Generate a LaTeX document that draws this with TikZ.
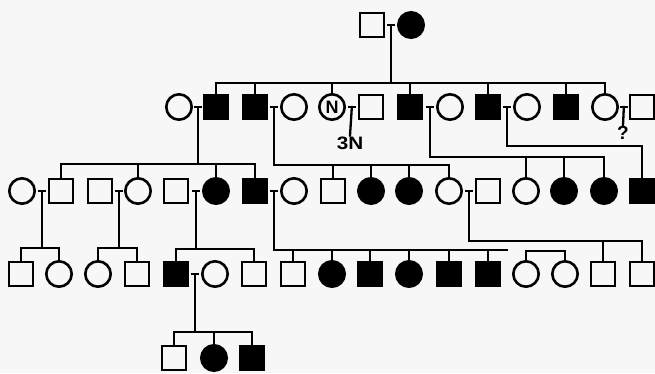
\documentclass[tikz,border=0pt]{standalone}
\usepackage{fontspec}
\newfontfamily\lab{Liberation Sans}
\usetikzlibrary{calc}
\begin{document}
\begin{tikzpicture}[x=1pt,y=-1pt,
  sq/.style={draw,line width=2.6pt,minimum size=24pt,inner sep=0pt,outer sep=0pt},
  ci/.style={draw,circle,line width=2.6pt,minimum size=25.4pt,inner sep=0pt,outer sep=0pt},
  fsq/.style={sq,fill=black},
  fci/.style={ci,fill=black},
  ln/.style={line width=2.3pt,line cap=rect},
  lbl/.style={font=\lab\bfseries\fontsize{18}{18}\selectfont,inner sep=1pt}]
\definecolor{bg}{RGB}{247,247,247}
\fill[bg] (0,0) rectangle (655,373);
\useasboundingbox (0,0) rectangle (655,373);
% generation I
\node[sq]  (r1a) at (372,25) {};
\node[fci] (r1b) at (411,25) {};
% generation II
\node[ci]  (a1)  at (179,107) {};
\node[fsq] (a2)  at (216,107) {};
\node[fsq] (a3)  at (255,107) {};
\node[ci]  (a4)  at (294,107) {};
\node[ci,font=\lab\bfseries\fontsize{18}{18}\selectfont] (a5) at (332,107) {N};
\node[sq]  (a6)  at (371,107) {};
\node[fsq] (a7)  at (410,107) {};
\node[ci]  (a8)  at (450,107) {};
\node[fsq] (a9)  at (488,107) {};
\node[ci]  (a10) at (527,107) {};
\node[fsq] (a11) at (566,107) {};
\node[ci]  (a12) at (605,107) {};
\node[sq]  (a13) at (642,107) {};
% generation III
\node[ci]  (b1)  at (22,191) {};
\node[sq]  (b2)  at (61,191) {};
\node[sq]  (b3)  at (100,191) {};
\node[ci]  (b4)  at (138,191) {};
\node[sq]  (b5)  at (176,191) {};
\node[fci] (b6)  at (216,191) {};
\node[fsq] (b7)  at (255,191) {};
\node[ci]  (b8)  at (294,191) {};
\node[sq]  (b9)  at (333,191) {};
\node[fci] (b10) at (371,191) {};
\node[fci] (b11) at (409,191) {};
\node[ci]  (b12) at (449,191) {};
\node[sq]  (b13) at (488,191) {};
\node[ci]  (b14) at (526,191) {};
\node[fci] (b15) at (564,191) {};
\node[fci] (b16) at (604,191) {};
\node[fsq] (b17) at (642,191) {};
% generation IV
\node[sq]  (c1)  at (21,274) {};
\node[ci]  (c2)  at (59,274) {};
\node[ci]  (c3)  at (98,274) {};
\node[sq]  (c4)  at (137,274) {};
\node[fsq] (c5)  at (176,274) {};
\node[ci]  (c6)  at (215,274) {};
\node[sq]  (c7)  at (254,274) {};
\node[sq]  (c8)  at (293,274) {};
\node[fci] (c9)  at (332,274) {};
\node[fsq] (c10) at (370,274) {};
\node[fci] (c11) at (409,274) {};
\node[fsq] (c12) at (449,274) {};
\node[fsq] (c13) at (488,274) {};
\node[ci]  (c14) at (526,274) {};
\node[ci]  (c15) at (565,274) {};
\node[sq]  (c16) at (603,274) {};
\node[sq]  (c17) at (642,274) {};
% generation V
\node[sq]  (d1)  at (174,358) {};
\node[fci] (d2)  at (214,358) {};
\node[fsq] (d3)  at (252,358) {};
% labels
\node[lbl] (t3n) at (350,143) {\scalebox{1.15}[1]{3N}};
\node[lbl,font=\lab\bfseries\fontsize{19}{19}\selectfont] (tq) at (623,133) {?};
% marriage points
\coordinate (m0)  at ($(r1a.east)!0.5!(r1b.west)$);
\coordinate (m1)  at ($(a1.east)!0.5!(a2.west)$);
\coordinate (m2)  at ($(a3.east)!0.5!(a4.west)$);
\coordinate (m3)  at ($(a5.east)!0.5!(a6.west)$);
\coordinate (m4)  at ($(a7.east)!0.5!(a8.west)$);
\coordinate (m5)  at ($(a9.east)!0.5!(a10.west)$);
\coordinate (m6)  at ($(a12.east)!0.5!(a13.west)$);
\coordinate (n1)  at ($(b1.east)!0.5!(b2.west)$);
\coordinate (n2)  at ($(b3.east)!0.5!(b4.west)$);
\coordinate (n3)  at ($(b5.east)!0.5!(b6.west)$);
\coordinate (n4)  at ($(b7.east)!0.5!(b8.west)$);
\coordinate (n5)  at ($(b12.east)!0.5!(b13.west)$);
\coordinate (p1)  at ($(c5.east)!0.5!(c6.west)$);
\foreach \m in {m0,m1,m2,m3,m4,m5,m6,n1,n2,n3,n4,n5,p1}
  \draw[ln] ([xshift=-3pt]\m) -- ([xshift=3pt]\m);
% sibship bar heights
\coordinate (y0) at (0,83);
\coordinate (y1) at (0,164);
\coordinate (y2) at (0,165);
\coordinate (y4) at (0,157);
\coordinate (y5) at (0,146);
\coordinate (z1) at (0,248);
\coordinate (z3) at (0,249);
\coordinate (z4) at (0,250);
\coordinate (z5) at (0,241);
\coordinate (zt) at (0,251);
\coordinate (w1) at (0,332);
\coordinate (e4) at (507,250);
% generation I -> II
\draw[ln] (m0) -- (m0 |- y0);
\draw[ln] (a2.north |- y0) -- (a12.north |- y0);
\foreach \n in {a2,a3,a5,a7,a9,a11,a12} \draw[ln] (\n.north) -- (\n.north |- y0);
% generation II -> III
\draw[ln] (m1) -- (m1 |- y1);
\draw[ln] (b2.north |- y1) -- (b7.north |- y1);
\foreach \n in {b2,b4,b6,b7} \draw[ln] (\n.north) -- (\n.north |- y1);
\draw[ln] (m2) |- (b12.north |- y2);
\foreach \n in {b9,b10,b11,b12} \draw[ln] (\n.north) -- (\n.north |- y2);
\draw[ln] (m3) -- (t3n.north);
\draw[ln] (m4) |- (b16.north |- y4);
\foreach \n in {b14,b15,b16} \draw[ln] (\n.north) -- (\n.north |- y4);
\draw[ln] (m5) |- (b17.north |- y5) -- (b17.north);
\draw[ln] (m6) -- (tq.north);
% generation III -> IV
\draw[ln] (n1) -- (n1 |- z1);
\draw[ln] (c1.north |- z1) -- (c2.north |- z1);
\foreach \n in {c1,c2} \draw[ln] (\n.north) -- (\n.north |- z1);
\draw[ln] (n2) -- (n2 |- z1);
\draw[ln] (c3.north |- z1) -- (c4.north |- z1);
\foreach \n in {c3,c4} \draw[ln] (\n.north) -- (\n.north |- z1);
\draw[ln] (n3) -- (n3 |- z3);
\draw[ln] (c5.north |- z3) -- (c7.north |- z3);
\foreach \n in {c5,c7} \draw[ln] (\n.north) -- (\n.north |- z3);
\draw[ln] (n4) |- (e4);
\foreach \n in {c8,c9,c10,c11,c12,c13} \draw[ln] (\n.north) -- (\n.north |- z4);
\draw[ln] (n5) |- (c17.north |- z5);
\foreach \n in {c16,c17} \draw[ln] (\n.north) -- (\n.north |- z5);
\draw[ln] (c14.north |- zt) -- (c15.north |- zt);
\foreach \n in {c14,c15} \draw[ln] (\n.north) -- (\n.north |- zt);
% generation IV -> V
\draw[ln] (p1) -- (p1 |- w1);
\draw[ln] (d1.north |- w1) -- (d3.north |- w1);
\foreach \n in {d1,d2,d3} \draw[ln] (\n.north) -- (\n.north |- w1);
\end{tikzpicture}
\end{document}
